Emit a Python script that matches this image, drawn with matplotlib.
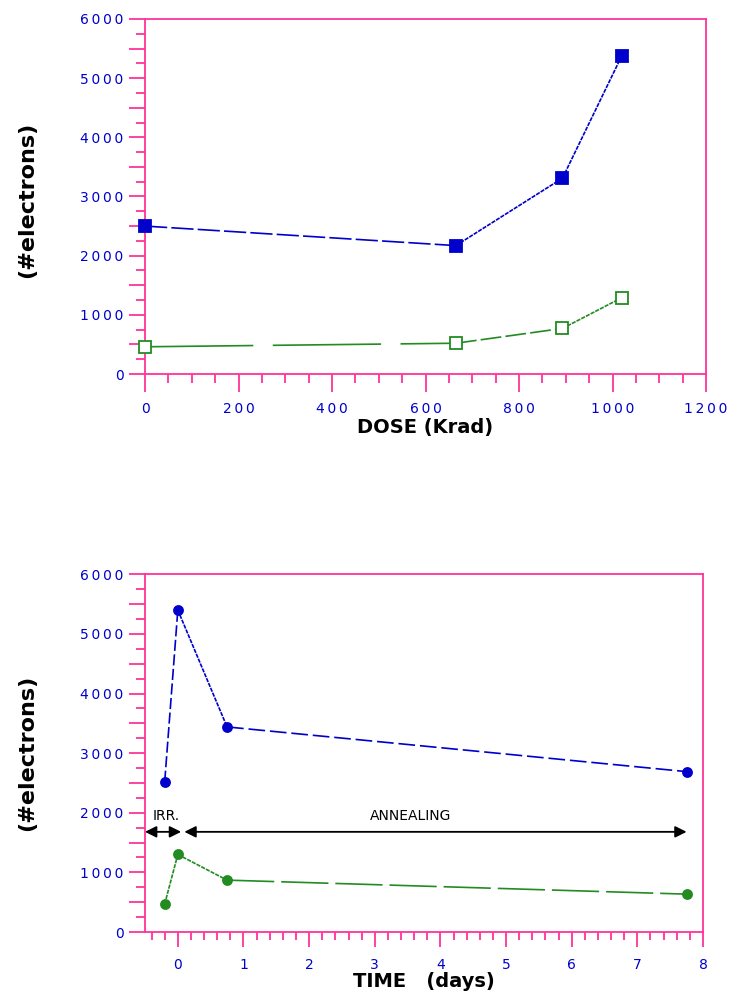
import matplotlib
matplotlib.use("Agg")
import matplotlib.pyplot as plt
from matplotlib.ticker import FixedLocator, FuncFormatter, MultipleLocator

# Dose scan: noise (#electrons) vs accumulated dose
dose_krad = [0, 665, 893, 1020]
dose_blue = [2500, 2170, 3310, 5380]
dose_green = [460, 520, 770, 1290]

# Time scan: irradiation then annealing
time_days = [-0.2, 0, 0.75, 7.75]
time_blue = [2520, 5400, 3440, 2690]
time_green = [470, 1300, 870, 635]

irr_span = [-0.5, 0.05]
anneal_span = [0.1, 7.75]
arrow_level = 1680

BLUE = "#0000cc"
GREEN = "#228b22"
PINK = "#ff3399"

plt.rcParams["lines.scale_dashes"] = False
plt.rcParams["font.family"] = "DejaVu Sans"


def spaced(v, pos=None):
    # wide-set digits like the old plotter font
    return "\u2009".join(str(int(round(v))))


def thousands_only(v, pos=None):
    return spaced(v) if int(round(v)) % 1000 == 0 else ""


def style_axes(ax, xmaj, xmin, xlabels, xmaj_len, xmin_len, xpad):
    for s in ax.spines.values():
        s.set_color(PINK)
        s.set_linewidth(1.3)
    ax.set_ylim(0, 6000)
    ax.yaxis.set_major_locator(MultipleLocator(500))
    ax.yaxis.set_minor_locator(MultipleLocator(250))
    ax.yaxis.set_major_formatter(FuncFormatter(thousands_only))
    ax.xaxis.set_major_locator(FixedLocator(xmaj))
    ax.xaxis.set_minor_locator(MultipleLocator(xmin))
    ax.xaxis.set_major_formatter(FuncFormatter(xlabels))
    ax.tick_params(axis="y", which="major", direction="out", length=11.5,
                   width=1.3, color=PINK, pad=4, labelcolor=BLUE, labelsize=10)
    ax.tick_params(axis="y", which="minor", direction="out", length=6.5,
                   width=1.3, color=PINK)
    ax.tick_params(axis="x", which="major", direction="out", length=xmaj_len,
                   width=1.3, color=PINK, pad=xpad, labelcolor=BLUE, labelsize=10)
    ax.tick_params(axis="x", which="minor", direction="out", length=xmin_len,
                   width=1.3, color=PINK)
    ax.set_ylabel("(#electrons)", fontsize=16, fontweight="bold")


def draw_series(ax, x, y, color, dashes, marker, ms, mfc):
    # each segment gets its own dash pattern
    for i in range(len(x) - 1):
        ax.plot(x[i:i + 2], y[i:i + 2], color=color, lw=1.2,
                linestyle=(0, dashes[i]), zorder=2)
    ax.plot(x, y, ls="none", marker=marker, ms=ms, color=color,
            mfc=mfc, mec=color, mew=1.3, zorder=3, clip_on=False)


fig = plt.figure(figsize=(7.32, 9.92), dpi=100)

# --- dose plot ---
ax1 = fig.add_axes([145 / 732, 1 - 374 / 992, 561 / 732, 355 / 992])
ax1.set_xlim(0, 1200)
style_axes(ax1, range(0, 1201, 200), 50, spaced, 13, 6.5, 7)
draw_series(ax1, dose_krad, dose_blue, BLUE,
            [(16, 3), (3, 0.8), (3, 0.8)], "s", 8.5, BLUE)
draw_series(ax1, dose_krad, dose_green, GREEN,
            [(78, 14), (15, 3), (3, 0.8)], "s", 8, "white")
ax1.set_xlabel("DOSE (Krad)", fontsize=14, fontweight="bold")
ax1.xaxis.set_label_coords(0.5, -0.125)
ax1.yaxis.set_label_coords(-0.193, 0.49)

# --- time plot ---
ax2 = fig.add_axes([145 / 732, 1 - 932 / 992, 558 / 732, 357.7 / 992])
ax2.set_xlim(-0.5, 8)
style_axes(ax2, range(0, 9), 0.2, lambda v, p=None: f"{int(round(v))}",
           11, 6, 8)
draw_series(ax2, time_days, time_blue, BLUE,
            [(8, 2.5), (3, 0.8), (12, 3.5)], "o", 6.5, BLUE)
draw_series(ax2, time_days, time_green, GREEN,
            [(3, 0.8), (3, 0.8), (34, 5)], "o", 6.5, GREEN)
ax2.set_xlabel("TIME   (days)", fontsize=14, fontweight="bold")
ax2.xaxis.set_label_coords(0.5, -0.112)
ax2.yaxis.set_label_coords(-0.194, 0.5)

arrow_kw = dict(arrowstyle="<|-|>", color="black", lw=1.3,
                mutation_scale=17, shrinkA=0, shrinkB=0)
ax2.annotate("", xy=(irr_span[1], arrow_level), xytext=(irr_span[0], arrow_level),
             arrowprops=arrow_kw, annotation_clip=False)
ax2.annotate("", xy=(anneal_span[1], arrow_level), xytext=(anneal_span[0], arrow_level),
             arrowprops=arrow_kw, annotation_clip=False)
ax2.text(-0.38, 1950, "IRR.", fontsize=10, ha="left", va="center")
ax2.text(2.92, 1950, "ANNEALING", fontsize=10, ha="left", va="center")

fig.savefig("out.png", dpi=100)
